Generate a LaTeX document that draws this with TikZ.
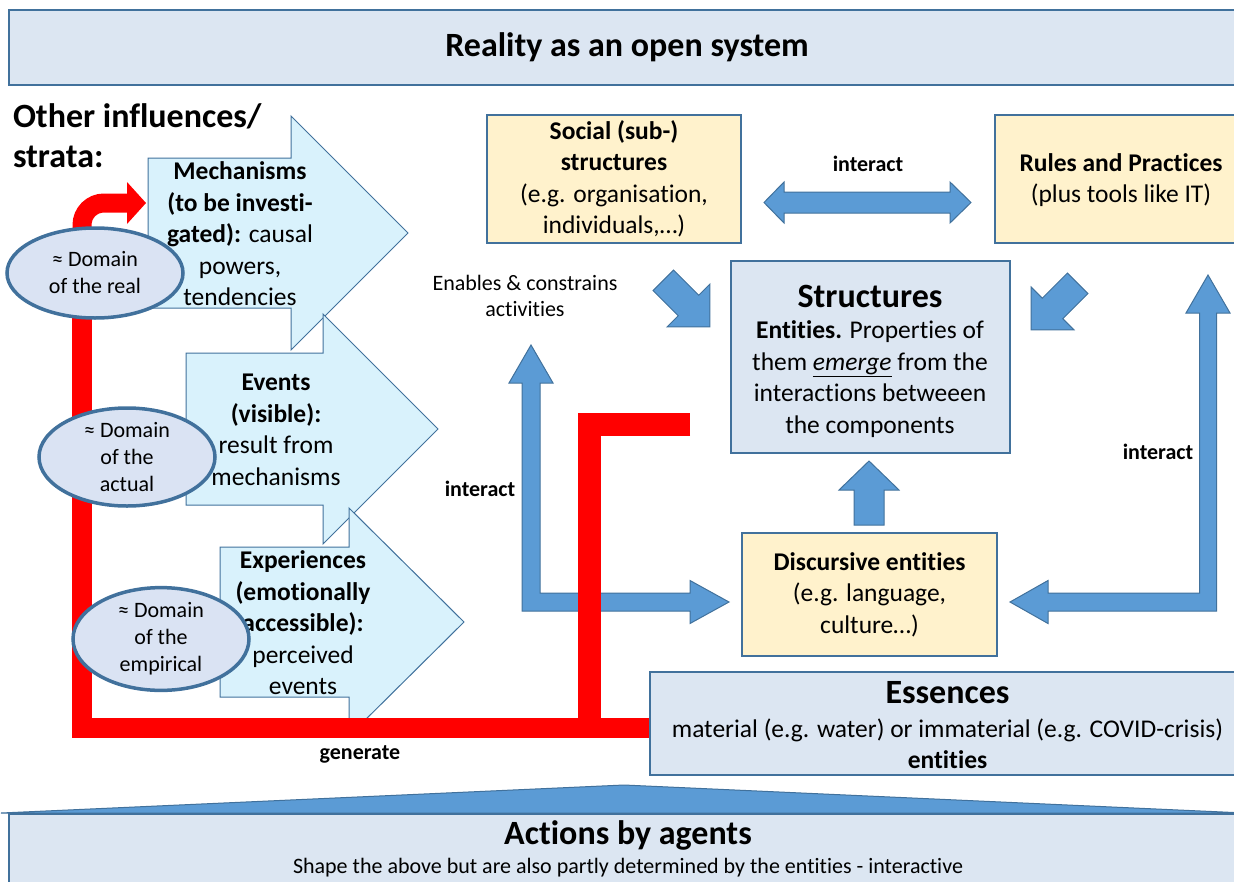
\documentclass[tikz,border=0pt]{standalone}
\usepackage{fontspec}
\setmainfont{Carlito}[Ligatures=NoCommon]
\usetikzlibrary{shapes.geometric}
\definecolor{edge}{HTML}{41719C}
\definecolor{paleblue}{HTML}{DCE6F2}
\definecolor{paleyellow}{HTML}{FFF2CC}
\definecolor{palecyan}{HTML}{D9F2FC}
\definecolor{midblue}{HTML}{5B9BD5}
\definecolor{ellfill}{HTML}{DAE3F3}
\definecolor{pathred}{HTML}{FF0000}

% straight block arrow: start point, rotation, length, head length, head half-width, shaft half-width
\newcommand{\blockarrow}[6]{%
  \begin{scope}[shift={#1},rotate=#2]
    \draw[bluearrow] (0,-#6) -- ({#3-#4},-#6) -- ({#3-#4},-#5) -- (#3,0)
      -- ({#3-#4},#5) -- ({#3-#4},#6) -- (0,#6) -- cycle;
  \end{scope}}

\begin{document}
\begin{tikzpicture}[x=1pt,y=-1pt,
  every node/.style={inner sep=0pt,outer sep=0pt},
  bodyfont/.style={font=\fontsize{25.5}{31.5}\selectfont},
  headfont/.style={font=\fontsize{34}{40}\selectfont\bfseries},
  labelfont/.style={font=\fontsize{22}{26.4}\selectfont},
  boldlabel/.style={font=\fontsize{22}{26.4}\selectfont\bfseries},
  panel/.style={draw=edge,line width=1.3pt,fill=paleblue,anchor=north west,align=center},
  notebox/.style={draw=edge,line width=1.3pt,fill=paleyellow,anchor=north west,align=center,bodyfont},
  stratum/.style={draw=edge,line width=1pt,fill=palecyan,line join=miter},
  bluearrow/.style={draw=edge,line width=1pt,fill=midblue,line join=miter},
  domainell/.style={ellipse,draw=edge,line width=3.5pt,fill=ellfill,
    minimum width=176pt,minimum height=90pt,align=center,
    font=\fontsize{22}{27}\selectfont},
  redline/.style={draw=pathred,line width=20pt,line cap=butt,line join=miter}]

\useasboundingbox (0,0) rectangle (1234,881);

% ---------- frame: open system on top, agents at the bottom ----------
\node[panel,minimum width=1236pt,minimum height=75pt,headfont] (banner) at (9,10)
  {Reality as an open system};

\draw[bluearrow] (1,813) -- (624,785) -- (1245,813) -- cycle;
\node[panel,minimum width=1236pt,minimum height=90pt] (actions) at (9,814) {};
\node[headfont] (actionstitle) at (628,835) {Actions by agents};
\node[labelfont] (actionstext) at (628,868)
  {Shape the above but are also partly determined by the entities - interactive};

\node[headfont,anchor=west,align=left] (strata) at (13,136) {Other influences/\\strata:};

% ---------- entity boxes ----------
\node[notebox,minimum width=254pt,minimum height=128pt] (social) at (487,115)
  {\textbf{Social (sub-)}\\\textbf{structures}\\(e.g. organisation,\\individuals,…)};
\node[notebox,minimum width=250pt,minimum height=128pt] (rules) at (995,115) {};
\node[bodyfont,align=center] (rulestext) at (1121,180)
  {\textbf{Rules and Practices}\\(plus tools like IT)};

\node[panel,minimum width=279pt,minimum height=192pt] (structures) at (731,261) {};
\node[headfont] (structtitle) at (870,296) {Structures};
\node[bodyfont,align=center] (structtext) at (870,379)
  {\textbf{Entities.} Properties of\\them \underline{\textit{emerge}} from the\\interactions betweeen\\the components};

\node[notebox,minimum width=255pt,minimum height=123pt] (discursive) at (742,533)
  {\textbf{Discursive entities}\\(e.g. language,\\culture…)};

% ---------- blue interaction arrows ----------
\draw[bluearrow] (764,202.5) -- (784,182) -- (784,192) -- (950,192) -- (950,182)
  -- (971,202.5) -- (950,223) -- (950,213) -- (784,213) -- (784,223) -- cycle;
\blockarrow{(663.3,280.3)}{-45}{66}{30.4}{30.4}{14.5}
\blockarrow{(1077.7,283.3)}{-135}{66}{30.4}{30.4}{14.5}
\blockarrow{(869,525)}{90}{64}{29}{30}{15}

% left elbow: enables activities / feeds discursive entities
\draw[bluearrow] (531,345) -- (553,383) -- (540,383) -- (540,593) -- (690,593)
  -- (690,580.5) -- (729,602) -- (690,623.5) -- (690,611) -- (522,611) -- (522,383)
  -- (509,383) -- cycle;
% right elbow: discursive entities <-> rules and practices
\draw[bluearrow] (1010,602) -- (1048,580.5) -- (1048,593) -- (1199.5,593) -- (1199.5,313)
  -- (1186,313) -- (1208,275) -- (1230,313) -- (1216.5,313) -- (1216.5,611)
  -- (1048,611) -- (1048,623.5) -- cycle;

% ---------- strata arrows ----------
\draw[stratum] (148,158) -- (291,158) -- (291,116) -- (408,233) -- (291,350)
  -- (291,308) -- (148,308) -- cycle;
\node[bodyfont,align=center] (mechanisms) at (240,234)
  {\textbf{Mechanisms}\\\textbf{(to be investi-}\\\textbf{gated):} causal\\powers,\\tendencies};

\draw[stratum] (186,353) -- (323,353) -- (323,314) -- (438,429) -- (323,544)
  -- (323,505) -- (186,505) -- cycle;
\node[bodyfont,align=center] (events) at (276,430)
  {\textbf{Events}\\\textbf{(visible):}\\result from\\mechanisms};

\draw[stratum] (220,547) -- (349,547) -- (349,508) -- (464,622) -- (349,736)
  -- (349,697) -- (220,697) -- cycle;
\node[bodyfont,align=center] (experiences) at (303,623)
  {\textbf{Experiences}\\\textbf{(emotionally}\\\textbf{accessible):}\\perceived\\events};

% ---------- red "generate" path ----------
\draw[redline,line width=19pt,rounded corners=22pt] (128,203) -| (82,262);
\draw[redline] (82,240) |- (650,728);
\fill[pathred] (127,182) -- (146,203) -- (127,224) -- cycle;
\draw[redline,line width=23pt] (690,424.5) -| (589.5,728);

% ---------- domains ----------
\node[domainell] (real) at (95,273) {≈ Domain\\of the real};
\node[domainell] (actual) at (127,457) {≈ Domain\\of the\\actual};
\node[domainell] (empirical) at (161,639) {≈ Domain\\of the\\empirical};

% ---------- essences ----------
\node[panel,minimum width=595pt,minimum height=103pt] (essences) at (650,672) {};
\node[headfont] (esstitle) at (947.5,693) {Essences};
\node[bodyfont,align=center] (esstext) at (947.5,744)
  {material (e.g. water) or immaterial (e.g. COVID-crisis)\\\textbf{entities}};

% ---------- labels ----------
\node[boldlabel] (lbltop) at (868,164) {interact};
\node[labelfont,align=center] (lblenable) at (525,296) {Enables \& constrains\\activities};
\node[boldlabel] (lblleft) at (480,489) {interact};
\node[boldlabel] (lblright) at (1158,452) {interact};
\node[boldlabel] (lblgen) at (360,754) {generate};

\end{tikzpicture}
\end{document}
